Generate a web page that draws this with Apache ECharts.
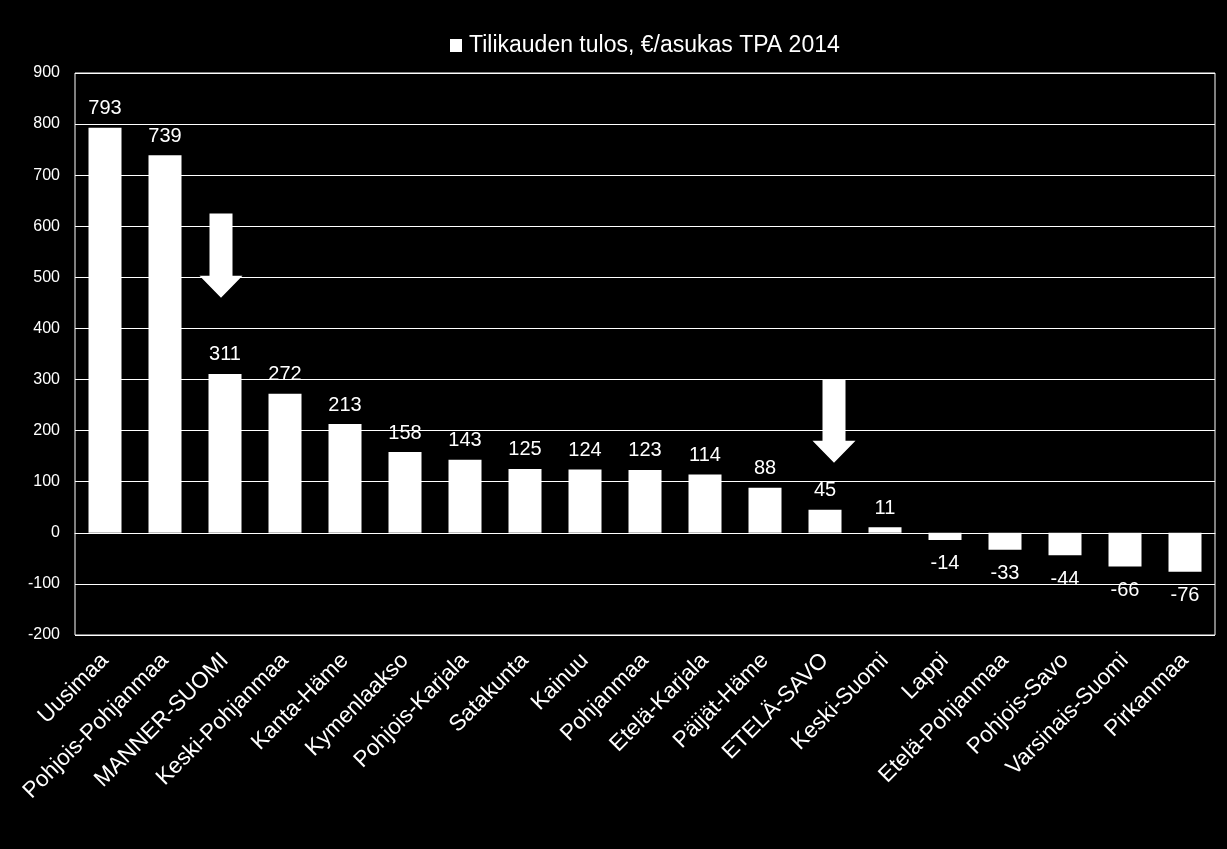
<!DOCTYPE html>
<html>
<head>
<meta charset="utf-8">
<style>
html,body{margin:0;padding:0;background:#000;}
#main{width:1227px;height:849px;}
</style>
<script src="https://cdn.jsdelivr.net/npm/echarts@6/dist/echarts.min.js"></script>
</head>
<body>
<div id="main"></div>
<script>
const categories = ['Uusimaa','Pohjois-Pohjanmaa','MANNER-SUOMI','Keski-Pohjanmaa','Kanta-Häme','Kymenlaakso','Pohjois-Karjala','Satakunta','Kainuu','Pohjanmaa','Etelä-Karjala','Päijät-Häme','ETELÄ-SAVO','Keski-Suomi','Lappi','Etelä-Pohjanmaa','Pohjois-Savo','Varsinais-Suomi','Pirkanmaa'];
const values = [793,739,311,272,213,158,143,125,124,123,114,88,45,11,-14,-33,-44,-66,-76];
const seriesName = 'Tilikauden tulos, €/asukas TPA 2014';
const yTicks = {min:-200, max:900, interval:100};
// annotation arrows: category, value at top of shaft, value at tip
const arrowCategories = ['MANNER-SUOMI','ETELÄ-SAVO'];
const arrowTop = [625, 300];
const arrowTip = [460, 137];

const FONT = '"Liberation Sans", Arial, sans-serif';
const arrowOffsets = [-4, 9];

const chart = echarts.init(document.getElementById('main'), null, {renderer:'canvas'});
const barData = values.map(v => ({
  value: v,
  label: v >= 0 ? { position: 'top', distance: 9 } : { position: 'bottom', distance: 14 }
}));
const arrowData = arrowCategories.map((c,i) => [categories.indexOf(c), arrowTop[i], arrowTip[i], i]);

chart.setOption({
  backgroundColor: '#000',
  animation: false,
  textStyle: { fontFamily: FONT },
  legend: {
    data: [seriesName],
    top: 29,
    left: 445,
    icon: 'rect',
    itemWidth: 12,
    itemHeight: 13,
    itemGap: 10,
    textStyle: { color: '#fff', fontSize: 23, fontFamily: FONT, padding: [0,0,0,2] }
  },
  grid: {
    left: 75, right: 12, top: 73, bottom: 214,
    show: true, borderColor: '#fff', borderWidth: 1
  },
  xAxis: {
    type: 'category',
    data: categories,
    axisLine: { show: true, onZero: true, lineStyle: { color: '#fff', width: 1 } },
    axisTick: { show: false },
    axisLabel: {
      color: '#fff', fontSize: 22.5, rotate: 45, interval: 0, margin: 22, fontFamily: FONT
    },
    splitLine: { show: false }
  },
  yAxis: {
    type: 'value',
    min: yTicks.min, max: yTicks.max, interval: yTicks.interval,
    axisLine: { show: false },
    axisTick: { show: false },
    axisLabel: { color: '#fff', fontSize: 16, margin: 15, fontFamily: FONT },
    splitLine: { show: true, lineStyle: { color: '#fff', width: 1 } }
  },
  series: [
    {
      name: seriesName,
      type: 'bar',
      data: barData,
      barWidth: '55%',
      itemStyle: { color: '#fff' },
      label: { show: true, color: '#fff', fontSize: 20, fontFamily: FONT }
    },
    {
      type: 'custom',
      name: 'arrows',
      data: arrowData,
      encode: { x: 0, y: [1,2] },
      z: 5,
      renderItem: function(params, api) {
        const idx = api.value(3);
        const top = api.coord([api.value(0), api.value(1)]);
        const tip = api.coord([api.value(0), api.value(2)]);
        const cx = top[0] + arrowOffsets[idx];
        const headLen = 22, shaftHalf = 11.5, headHalf = 21.5;
        const hy = tip[1] - headLen;
        return {
          type: 'polygon',
          shape: { points: [
            [cx - shaftHalf, top[1]], [cx + shaftHalf, top[1]],
            [cx + shaftHalf, hy], [cx + headHalf, hy],
            [cx, tip[1]],
            [cx - headHalf, hy], [cx - shaftHalf, hy]
          ]},
          style: { fill: '#fff', stroke: null }
        };
      }
    }
  ]
});
</script>
</body>
</html>
